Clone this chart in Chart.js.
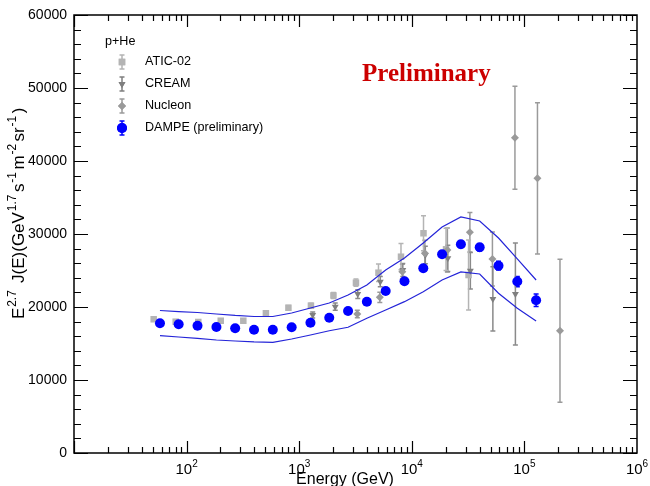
<!DOCTYPE html>
<html>
<head>
<meta charset="utf-8">
<script src="https://cdn.jsdelivr.net/npm/chart.js@4.4.1/dist/chart.umd.min.js"></script>
<style>
    body { margin: 0; background: #fff; }
    #wrap { width: 650px; height: 486px; }
</style>
</head>
<body>
<div id="wrap"><canvas id="spectrum_phe" width="650" height="486"></canvas></div>
<script>
// E (GeV) and E^2.7 J(E)
const dampeE = [58, 85, 125, 184, 270, 397, 583, 857, 1259, 1849, 2716, 3990, 5861, 8610, 12647, 18578, 27290, 40087, 58884, 86497, 127057];
const dampeFlux = [17770, 17630, 17440, 17260, 17080, 16890, 16890, 17220, 17850, 18530, 19450, 20730, 22190, 23520, 25300, 27220, 28590, 28180, 25660, 23490, 20920];
const dampeErr = [100, 100, 100, 100, 100, 100, 100, 100, 120, 140, 160, 200, 250, 300, 350, 400, 450, 500, 600, 700, 850];
const bandUpper = [19520, 19380, 19250, 19040, 18840, 18700, 18700, 19180, 19860, 20550, 21640, 23010, 25070, 26710, 28770, 30960, 32330, 31780, 29450, 26580, 23700];
const bandLower = [16070, 15890, 15690, 15480, 15340, 15210, 15160, 15620, 16160, 16750, 17220, 18450, 19590, 20730, 22100, 23700, 24800, 24520, 21880, 19820, 18080];

const aticE = [51, 80, 127, 201, 319, 506, 802, 1271, 2014, 3192, 5058, 8017, 12706, 20137, 31915];
const aticFlux = [18320, 17990, 17950, 18120, 18120, 19140, 19900, 20180, 21580, 23330, 24700, 26890, 30100, 27900, 24380];
const aticErr = [200, 200, 200, 200, 250, 300, 300, 350, 400, 500, 1200, 1800, 2400, 2900, 4800];

const creamE = [1318, 2089, 3311, 5248, 8318, 13183, 20893, 33113, 52481, 83176];
const creamFlux = [18900, 20040, 21780, 23470, 25070, 27120, 26670, 24970, 21100, 21780];
const creamErr = [400, 500, 600, 700, 900, 1200, 1800, 2500, 4400, 7000];

const nucleonE = [3281, 5200, 8241, 13062, 20701, 32810, 52000, 82414, 130617, 207014];
const nucleonFlux = [19040, 21330, 24840, 27360, 27810, 30230, 26580, 43190, 37630, 16750];
const nucleonErr = [500, 700, 1000, 1800, 3000, 2700, 3700, 7050, 10360, 9800];

const yTicks = [0, 10000, 20000, 30000, 40000, 50000, 60000];
const xDecades = [100, 1000, 10000, 100000, 1000000];
const xExponents = ['2', '3', '4', '5', '6'];

const legendItems = [
    { label: 'ATIC-02', style: 'rect', color: '#b4b4b4' },
    { label: 'CREAM', style: 'triangle', color: '#7f7f7f' },
    { label: 'Nucleon', style: 'rectRot', color: '#9a9a9a' },
    { label: 'DAMPE (preliminary)', style: 'circle', color: '#0000ff' }
];

function toPoints(es, vs) {
    return es.map((e, i) => ({ x: e, y: vs[i] }));
}

const FONT = 'Liberation Sans, Arial, Helvetica, sans-serif';

const errorBars = {
    id: 'errorBars',
    beforeDatasetsDraw(chart) {
        const { ctx, scales: { x, y } } = chart;
        ctx.save();
        chart.data.datasets.forEach((ds) => {
            if (!ds.errors) return;
            ctx.strokeStyle = ds.errColor;
            ctx.lineWidth = 1.5;
            ds.data.forEach((p, i) => {
                const px = x.getPixelForValue(p.x);
                const top = y.getPixelForValue(p.y + ds.errors[i]);
                const bot = y.getPixelForValue(p.y - ds.errors[i]);
                ctx.beginPath();
                ctx.moveTo(px, top); ctx.lineTo(px, bot);
                ctx.moveTo(px - 2.5, top); ctx.lineTo(px + 2.5, top);
                ctx.moveTo(px - 2.5, bot); ctx.lineTo(px + 2.5, bot);
                ctx.stroke();
            });
        });
        ctx.restore();
    }
};

function drawSupText(ctx, parts, x0, y0, big, small, gap) {
    // parts: [text, isSup]
    let cx = x0;
    parts.forEach(([t, sup]) => {
        ctx.font = (sup ? small : big) + 'px ' + FONT;
        if (sup) cx += gap / 3;
        ctx.fillText(t, cx, sup ? y0 - big * 0.45 : y0);
        cx += ctx.measureText(t).width + (sup ? gap : 0);
    });
    return cx - x0;
}

const rootAxes = {
    id: 'rootAxes',
    afterDraw(chart) {
        const { ctx, chartArea: a, scales: { x, y } } = chart;
        ctx.save();
        ctx.strokeStyle = '#000';
        ctx.lineWidth = 1.2;
        ctx.beginPath();
        for (let v = 0; v <= 60000; v += 2000) {
            const py = Math.round(y.getPixelForValue(v)) + 0.5;
            const len = v % 10000 === 0 ? 14 : 7;
            ctx.moveTo(a.left, py); ctx.lineTo(a.left + len, py);
            ctx.moveTo(a.right, py); ctx.lineTo(a.right - len, py);
        }
        for (let d = 10; d < 1e6; d *= 10) {
            for (let m = 1; m <= 9; m++) {
                const px = Math.round(x.getPixelForValue(d * m)) + 0.5;
                const len = m === 1 ? 12 : 6;
                ctx.moveTo(px, a.bottom); ctx.lineTo(px, a.bottom - len);
                ctx.moveTo(px, a.top); ctx.lineTo(px, a.top + len);
            }
        }
        ctx.stroke();
        ctx.lineWidth = 1.5;
        ctx.strokeRect(a.left, a.top, a.right - a.left, a.bottom - a.top);

        // y tick labels
        ctx.fillStyle = '#000';
        ctx.font = '14px ' + FONT;
        ctx.textAlign = 'right';
        ctx.textBaseline = 'middle';
        yTicks.forEach((v) => ctx.fillText(String(v), a.left - 7, y.getPixelForValue(v)));

        // x tick labels 10^n
        ctx.textAlign = 'left';
        ctx.textBaseline = 'alphabetic';
        xDecades.forEach((d, i) => {
            const px = x.getPixelForValue(d);
            ctx.font = '15px ' + FONT;
            const w1 = ctx.measureText('10').width;
            ctx.font = '10px ' + FONT;
            const w2 = ctx.measureText(xExponents[i]).width;
            drawSupText(ctx, [['10', false], [xExponents[i], true]], px - (w1 + w2) / 2, 474, 15, 10, 0);
        });

        // axis titles
        ctx.font = '16px ' + FONT;
        ctx.textAlign = 'center';
        ctx.fillText('Energy (GeV)', 345, 484);

        ctx.save();
        ctx.translate(24, 319);
        ctx.rotate(-Math.PI / 2);
        ctx.textAlign = 'left';
        drawSupText(ctx, [['E', false], ['2.7', true], [' J(E)(GeV', false], ['1.7', true], ['s', false], ['-1', true],
            ['m', false], ['-2', true], ['sr', false], ['-1', true], [')', false]], 0, 0, 17, 12, 2.5);
        ctx.restore();

        // Preliminary
        ctx.font = 'bold 25px Liberation Serif, Times New Roman, serif';
        ctx.fillStyle = '#cc0000';
        ctx.textAlign = 'left';
        ctx.fillText('Preliminary', 362, 81);

        // legend
        ctx.fillStyle = '#000';
        ctx.font = '12.6px ' + FONT;
        ctx.textBaseline = 'middle';
        ctx.fillText('p+He', 105, 42);
        legendItems.forEach((it, i) => {
            const ly = 62 + i * 22;
            ctx.strokeStyle = it.color;
            ctx.lineWidth = 1.5;
            ctx.beginPath();
            ctx.moveTo(122, ly - 7); ctx.lineTo(122, ly + 7);
            ctx.moveTo(119.5, ly - 7); ctx.lineTo(124.5, ly - 7);
            ctx.moveTo(119.5, ly + 7); ctx.lineTo(124.5, ly + 7);
            ctx.stroke();
            ctx.fillStyle = it.color;
            const r = it.style === 'circle' ? 5 : it.style === 'rect' ? 4.6 : 4;
            Chart.helpers.drawPoint(ctx, { pointStyle: it.style, radius: r, rotation: it.style === 'triangle' ? 180 : 0, borderWidth: 0 }, 122, ly);
            ctx.fill();
            ctx.fillStyle = '#000';
            ctx.fillText(it.label, 145, ly);
        });
        ctx.restore();
    }
};

new Chart(document.querySelector('#spectrum_phe'), {
    type: 'scatter',
    data: {
        datasets: [{
            label: 'DAMPE (preliminary)',
            data: toPoints(dampeE, dampeFlux),
            errors: dampeErr,
            errColor: '#0000ff',
            pointStyle: 'circle',
            pointRadius: 5,
            backgroundColor: '#0000ff',
            borderColor: '#0000ff',
            borderWidth: 0
        }, {
            label: 'band upper',
            data: toPoints(dampeE, bandUpper),
            showLine: true,
            pointRadius: 0,
            borderColor: '#2424d8',
            borderWidth: 1.2,
            tension: 0
        }, {
            label: 'band lower',
            data: toPoints(dampeE, bandLower),
            showLine: true,
            pointRadius: 0,
            borderColor: '#2424d8',
            borderWidth: 1.2,
            tension: 0
        }, {
            label: 'Nucleon',
            data: toPoints(nucleonE, nucleonFlux),
            errors: nucleonErr,
            errColor: '#9a9a9a',
            pointStyle: 'rectRot',
            pointRadius: 4,
            backgroundColor: '#9a9a9a',
            borderWidth: 0
        }, {
            label: 'CREAM',
            data: toPoints(creamE, creamFlux),
            errors: creamErr,
            errColor: '#8a8a8a',
            pointStyle: 'triangle',
            rotation: 180,
            pointRadius: 4,
            backgroundColor: '#7f7f7f',
            borderWidth: 0
        }, {
            label: 'ATIC-02',
            data: toPoints(aticE, aticFlux),
            errors: aticErr,
            errColor: '#b4b4b4',
            pointStyle: 'rect',
            pointRadius: 4.6,
            backgroundColor: '#b4b4b4',
            borderWidth: 0
        }]
    },
    options: {
        responsive: false,
        animation: false,
        layout: { padding: { left: 74, right: 13, top: 15, bottom: 33 } },
        plugins: { legend: { display: false }, tooltip: { enabled: false } },
        scales: {
            x: { type: 'logarithmic', min: 10, max: 1000000, display: false },
            y: { min: 0, max: 60000, display: false }
        }
    },
    plugins: [errorBars, rootAxes]
});
</script>
</body>
</html>
